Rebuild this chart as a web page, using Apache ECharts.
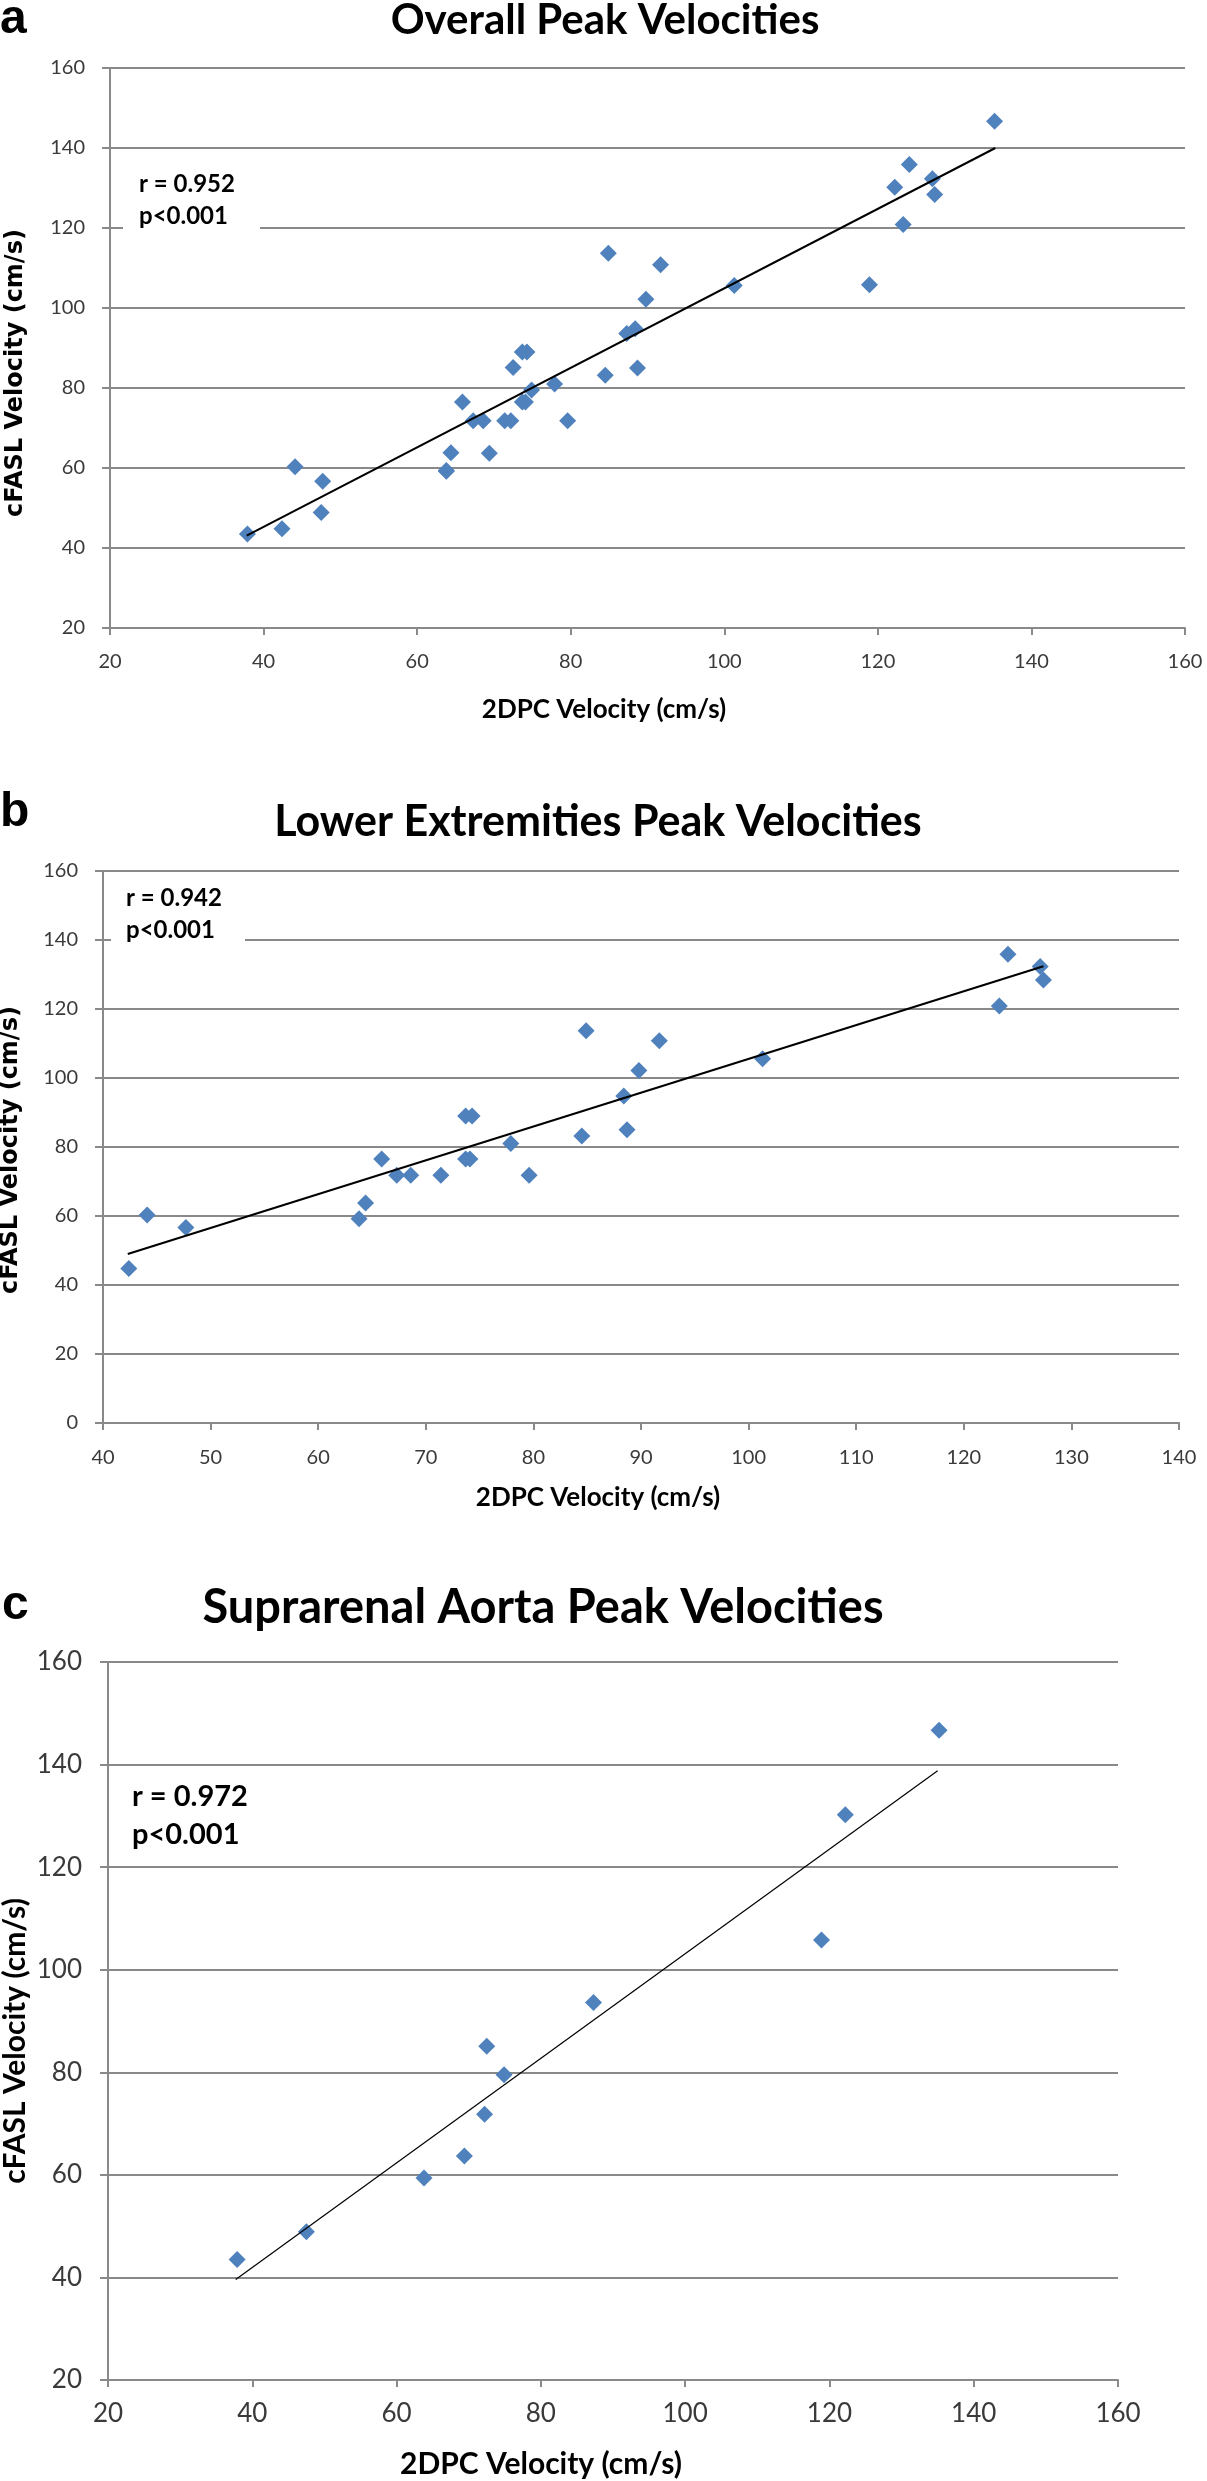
<!DOCTYPE html>
<html>
<head>
<meta charset="utf-8">
<title>Peak Velocities</title>
<script src="https://cdn.jsdelivr.net/npm/echarts@6/dist/echarts.min.js"></script>
<style>
  html, body { margin: 0; padding: 0; background: #fff; }
  #chart { width: 1207px; height: 2481px; }
</style>
</head>
<body>
<div id="chart"></div>
<script>
// lower extremities (panel b)
const lowerX = [42.4, 44.1, 47.7, 63.8, 64.4, 65.9, 67.3, 68.6, 71.4, 73.7, 74.3, 73.7, 74.1,
  77.9, 79.6, 84.5, 84.9, 88.4, 88.7, 89.8, 91.7, 101.3, 123.3, 124.1, 127.1, 127.4];
const lowerY = [44.8, 60.3, 56.7, 59.2, 63.8, 76.5, 71.8, 71.8, 71.8, 89.0, 89.0, 76.5, 76.5,
  81.0, 71.8, 83.2, 113.7, 94.8, 85.0, 102.2, 110.8, 105.6, 120.9, 135.9, 132.3, 128.4];

// suprarenal aorta (panel c)
const supraX = [37.9, 47.5, 63.8, 69.4, 72.2, 72.5, 74.9, 87.3, 118.9, 122.2, 135.2];
const supraY = [43.5, 48.9, 59.4, 63.7, 71.8, 85.1, 79.5, 93.6, 105.8, 130.2, 146.7];

// trend line end points as drawn in the figure
const trendAllX = [37.8, 135.3];
const trendAllY = [43.1, 140.0];
const trendLowerX = [42.3, 127.4];
const trendLowerY = [49.0, 132.4];
const trendSupraX = [37.7, 135.0];
const trendSupraY = [39.6, 138.8];

const titles = ['Overall Peak Velocities', 'Lower Extremities Peak Velocities', 'Suprarenal Aorta Peak Velocities'];
const stats = [['r = 0.952', 'p<0.001'], ['r = 0.942', 'p<0.001'], ['r = 0.972', 'p<0.001']];

// overall = both groups together
const allX = lowerX.concat(supraX);
const allY = lowerY.concat(supraY);

const pairs = (xs, ys) => xs.map((x, i) => [x, ys[i]]);

const gridColor = '#898989';
const blue = '#4F81BD';
const calibri = 'Lato';
const verdana = 'DejaVu Sans';

const mkX = (gi, min, max, interval, fontSize, margin) => ({
  type: 'value',
  gridIndex: gi,
  min: min,
  max: max,
  interval: interval,
  axisLine: { show: true, lineStyle: { color: gridColor, width: 2 } },
  axisTick: { show: true, inside: false, length: 7, lineStyle: { color: gridColor, width: 2 } },
  axisLabel: { color: '#3a3a3a', fontSize: fontSize, fontFamily: calibri, margin: margin },
  splitLine: { show: false },
});

const mkY = (gi, min, max, interval, fontSize, margin) => ({
  type: 'value',
  gridIndex: gi,
  min: min,
  max: max,
  interval: interval,
  axisLine: { show: true, lineStyle: { color: gridColor, width: 2 } },
  axisTick: { show: true, inside: false, length: 8, lineStyle: { color: gridColor, width: 2 } },
  axisLabel: { color: '#3a3a3a', fontSize: fontSize, fontFamily: calibri, margin: margin },
  splitLine: { show: true, lineStyle: { color: gridColor, width: 2 } },
});

const scatter = (gi, xs, ys, size) => ({
  type: 'scatter',
  xAxisIndex: gi,
  yAxisIndex: gi,
  symbol: 'diamond',
  symbolSize: size,
  itemStyle: { color: blue, opacity: 1 },
  z: 3,
  data: pairs(xs, ys),
});

const trend = (gi, xs, ys, w) => ({
  type: 'line',
  xAxisIndex: gi,
  yAxisIndex: gi,
  showSymbol: false,
  symbol: 'none',
  silent: true,
  lineStyle: { color: '#000', width: w },
  z: 4,
  data: pairs(xs, ys),
});

const txt = (text, x, y, size, family, align, rot) => ({
  type: 'text',
  x: x,
  y: y,
  rotation: rot || 0,
  z: 10,
  style: {
    text: text,
    fontSize: size,
    fontWeight: 'bold',
    fontFamily: family,
    fill: '#000',
    textAlign: align,
    align: align,
    textVerticalAlign: 'middle',
    verticalAlign: 'middle',
  },
});

const whiteBox = (x, y, w, h) => ({
  type: 'rect',
  shape: { x: x, y: y, width: w, height: h },
  style: { fill: '#fff' },
  z: 5,
});

const dom = document.getElementById('chart');
const chart = echarts.init(dom, null, { renderer: 'canvas' });

chart.setOption({
  animation: false,
  backgroundColor: '#fff',
  grid: [
    { left: 110, top: 68, width: 1075, height: 560, outerBoundsMode: 'none', containLabel: false },
    { left: 103, top: 871, width: 1076, height: 552, outerBoundsMode: 'none', containLabel: false },
    { left: 108, top: 1662, width: 1010, height: 718, outerBoundsMode: 'none', containLabel: false },
  ],
  xAxis: [
    mkX(0, 20, 160, 20, 20, 24),
    mkX(1, 40, 140, 10, 20, 25),
    mkX(2, 20, 160, 20, 26, 21),
  ],
  yAxis: [
    mkY(0, 20, 160, 20, 20, 25),
    mkY(1, 0, 160, 20, 20, 25),
    mkY(2, 20, 160, 20, 26, 26),
  ],
  series: [
    scatter(0, allX, allY, 17),
    trend(0, trendAllX, trendAllY, 2),
    scatter(1, lowerX, lowerY, 17),
    trend(1, trendLowerX, trendLowerY, 2),
    scatter(2, supraX, supraY, 17),
    trend(2, trendSupraX, trendSupraY, 1.2),
  ],
  graphic: [
    // panel letters
    txt('a', 0, 20, 48, 'Liberation Sans', 'left'),
    txt('b', 0, 813, 48, 'Liberation Sans', 'left'),
    txt('c', 2, 1606, 48, 'Liberation Sans', 'left'),
    // titles
    txt(titles[0], 605, 20, 42, calibri, 'center'),
    txt(titles[1], 598, 822, 43, calibri, 'center'),
    txt(titles[2], 543, 1608, 47, calibri, 'center'),
    // x axis titles
    txt('2DPC Velocity (cm/s)', 604, 710, 26, calibri, 'center'),
    txt('2DPC Velocity (cm/s)', 598, 1498, 26, calibri, 'center'),
    txt('2DPC Velocity (cm/s)', 541, 2464, 30, calibri, 'center'),
    // y axis titles
    txt('cFASL Velocity (cm/s)', 16, 373, 24, verdana, 'center', Math.PI / 2),
    txt('cFASL Velocity (cm/s)', 11, 1150, 24, verdana, 'center', Math.PI / 2),
    txt('cFASL Velocity (cm/s)', 15, 2041, 30, calibri, 'center', Math.PI / 2),
    // r / p boxes
    whiteBox(123, 162, 137, 76),
    whiteBox(111, 880, 134, 66),
    txt(stats[0][0], 139, 184, 24, calibri, 'left'),
    txt(stats[0][1], 139, 216, 24, calibri, 'left'),
    txt(stats[1][0], 126, 898, 24, calibri, 'left'),
    txt(stats[1][1], 126, 930, 24, calibri, 'left'),
    txt(stats[2][0], 132, 1797, 29, calibri, 'left'),
    txt(stats[2][1], 132, 1835, 29, calibri, 'left'),
  ],
});

window.addEventListener('resize', () => {
  chart.resize();
});
</script>
</body>
</html>
